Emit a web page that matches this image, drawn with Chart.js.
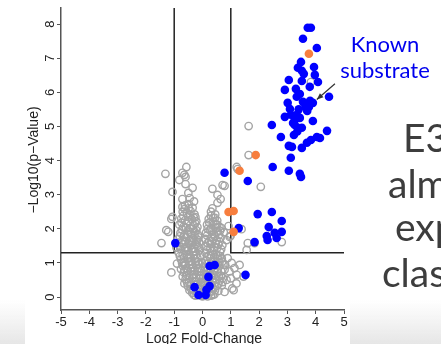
<!DOCTYPE html>
<html>
<head>
<meta charset="utf-8">
<script src="https://cdn.jsdelivr.net/npm/chart.js@4.4.1/dist/chart.umd.min.js"></script>
<style>
  html, body { margin: 0; padding: 0; background: #fff; }
  canvas { display: block; }
</style>
</head>
<body>
<canvas id="volcano" width="441" height="344"></canvas>
<script>
// log2 fold-change / -log10 p pairs
var notSignificant = [
  // scattered around the V
  [-1.31,3.61],[-1.06,3.08],[-0.71,3.64],[-0.57,3.81],[-0.64,3.58],[-0.82,3.43],[-0.60,3.52],[-0.60,3.31],
  [-0.35,3.20],[-0.50,3.05],[-0.45,2.90],[-0.71,2.87],[-0.30,2.80],[-0.71,2.64],[-0.25,2.34],[-1.10,2.29],
  [-1.06,2.35],[-1.28,1.96],[-1.21,1.91],[-1.45,1.58],[-1.10,0.72],[-0.92,1.45],[-0.90,0.98],
  [0.35,3.17],[0.53,2.99],[0.64,2.87],[0.53,2.76],[0.35,2.60],[0.71,3.28],[0.78,3.26],[1.21,3.81],[1.24,3.75],
  [0.67,2.02],[0.92,2.08],[0.96,1.76],[0.85,1.67],[0.75,1.90],[1.38,1.99],[0.99,1.79],[1.56,1.38],[1.60,1.58],
  [1.84,1.58],[2.80,1.61],[0.89,1.14],[1.03,1.00],[1.13,0.85],[1.31,0.94],[1.21,0.65],[0.71,0.44],[0.95,0.75],
  [0.85,0.50],[1.20,0.40],[1.05,0.25],[0.62,1.20],[0.80,0.95],[1.00,0.55],[1.45,0.60],[1.10,0.20],[0.78,0.15],
  [1.63,5.01],[1.63,4.16],[2.06,3.23],[3.83,6.30],
  // left arm
  [-0.62,2.68],[-0.48,2.72],[-0.35,2.62],[-0.63,2.58],[-0.49,2.60],
  [-0.70,2.50],[-0.55,2.45],[-0.42,2.52],[-0.28,2.42],[-0.68,2.38],[-0.44,2.40],[-0.31,2.32],
  [-0.75,2.30],[-0.62,2.25],[-0.50,2.35],[-0.38,2.28],[-0.22,2.22],[-0.74,2.18],[-0.50,2.22],[-0.26,2.16],
  [-0.82,2.12],[-0.68,2.05],[-0.56,2.15],[-0.44,2.02],[-0.32,2.10],[-0.18,2.05],
  [-0.72,1.98],[-0.58,2.02],[-0.46,1.90],[-0.34,2.00],[-0.22,1.96],
  [-0.78,1.88],[-0.64,1.82],[-0.52,1.95],[-0.40,1.85],[-0.28,1.92],[-0.16,1.82],
  [-0.80,1.78],[-0.66,1.76],[-0.52,1.84],[-0.40,1.68],[-0.28,1.80],[-0.18,1.68],
  [-0.86,1.70],[-0.72,1.66],[-0.58,1.75],[-0.46,1.64],[-0.34,1.72],[-0.22,1.62],[-0.14,1.75],
  [-0.74,1.58],[-0.60,1.62],[-0.48,1.56],[-0.36,1.60],[-0.24,1.54],[-0.12,1.60],
  [-0.80,1.48],[-0.66,1.55],[-0.54,1.44],[-0.42,1.52],[-0.30,1.42],[-0.18,1.50],
  [-0.76,1.40],[-0.62,1.45],[-0.50,1.38],[-0.38,1.42],[-0.26,1.34],[-0.14,1.46],
  [-0.84,1.30],[-0.70,1.25],[-0.58,1.35],[-0.46,1.22],[-0.34,1.32],[-0.22,1.24],[-0.12,1.36],
  [-0.80,1.20],[-0.66,1.16],[-0.54,1.24],[-0.42,1.14],[-0.30,1.22],[-0.18,1.14],[-0.08,1.22],
  [-0.76,1.10],[-0.64,1.02],[-0.52,1.14],[-0.40,1.04],[-0.28,1.12],[-0.16,1.02],
  [-0.72,1.00],[-0.60,0.96],[-0.48,1.04],[-0.36,0.96],[-0.24,1.04],[-0.12,0.96],[-0.02,1.00],
  [-0.70,0.92],[-0.58,0.84],[-0.46,0.95],[-0.34,0.86],[-0.22,0.94],[-0.10,0.84],
  [-0.76,0.82],[-0.64,0.80],[-0.52,0.76],[-0.40,0.84],[-0.28,0.78],[-0.16,0.84],[-0.04,0.76],
  [-0.66,0.72],[-0.54,0.64],[-0.42,0.76],[-0.30,0.66],[-0.18,0.74],[-0.06,0.64],
  [-0.70,0.60],[-0.58,0.62],[-0.46,0.56],[-0.34,0.64],[-0.22,0.58],[-0.10,0.62],[0.02,0.56],
  [-0.60,0.52],[-0.48,0.44],[-0.36,0.56],[-0.24,0.46],[-0.12,0.54],[0.00,0.44],
  [-0.64,0.40],[-0.54,0.42],[-0.42,0.36],[-0.30,0.46],[-0.18,0.38],[-0.06,0.44],[0.04,0.36],
  [-0.52,0.32],[-0.40,0.24],[-0.28,0.36],[-0.16,0.26],[-0.04,0.34],
  [-0.46,0.20],[-0.34,0.24],[-0.22,0.16],[-0.10,0.24],[0.02,0.14],
  [-0.36,0.12],[-0.24,0.04],[-0.12,0.14],[0.00,0.02],[-0.30,0.06],[-0.18,0.08],[-0.06,0.04],
  // right arm
  [0.30,2.50],[0.45,2.42],[0.30,2.38],[0.44,2.32],
  [0.22,2.28],[0.38,2.32],[0.52,2.24],[0.24,2.18],[0.38,2.20],[0.52,2.12],
  [0.16,2.12],[0.30,2.02],[0.46,2.14],[0.60,2.06],
  [0.18,2.00],[0.34,1.92],[0.48,2.02],[0.62,1.94],
  [0.12,1.88],[0.26,1.96],[0.40,1.84],[0.54,1.92],
  [0.16,1.80],[0.30,1.74],[0.44,1.78],[0.58,1.82],
  [0.10,1.70],[0.24,1.64],[0.36,1.76],[0.50,1.66],[0.64,1.74],
  [0.18,1.58],[0.32,1.64],[0.46,1.56],[0.60,1.62],[0.70,1.52],
  [0.14,1.48],[0.28,1.56],[0.42,1.46],[0.56,1.54],
  [0.16,1.38],[0.28,1.42],[0.40,1.38],[0.52,1.44],[0.66,1.40],
  [0.10,1.30],[0.22,1.22],[0.34,1.34],[0.48,1.24],[0.62,1.32],
  [0.16,1.18],[0.30,1.24],[0.42,1.16],[0.56,1.22],[0.68,1.14],
  [0.14,1.06],[0.28,1.14],[0.40,1.02],[0.54,1.12],[0.70,1.04],
  [0.18,0.98],[0.32,1.04],[0.46,0.96],[0.60,1.02],[0.74,0.94],
  [0.08,0.88],[0.20,0.82],[0.34,0.94],[0.46,0.84],[0.58,0.92],
  [0.14,0.78],[0.28,0.84],[0.40,0.78],[0.54,0.82],[0.66,0.76],[0.78,0.80],
  [0.12,0.66],[0.26,0.74],[0.40,0.64],[0.52,0.72],[0.66,0.62],
  [0.16,0.58],[0.30,0.62],[0.44,0.56],[0.58,0.62],[0.72,0.56],
  [0.10,0.46],[0.22,0.54],[0.36,0.44],[0.48,0.52],[0.60,0.48],
  [0.08,0.36],[0.20,0.40],[0.32,0.36],[0.44,0.42],[0.56,0.38],[0.68,0.34],
  [0.14,0.26],[0.26,0.34],[0.38,0.24],[0.50,0.32],
  [0.08,0.20],[0.20,0.22],[0.32,0.16],[0.44,0.20],[0.56,0.18],
  [0.12,0.08],[0.24,0.14],[0.36,0.06],[0.06,0.04],[0.18,0.02],[0.30,0.04],[0.42,0.08]
];

var significant = [
  [3.72,7.89],[3.83,7.89],[3.55,7.57],[4.04,7.30],[3.48,6.89],[3.37,6.72],[3.94,6.74],[3.51,6.63],
  [3.58,6.54],[3.97,6.51],[3.05,6.36],[3.51,6.33],[4.08,6.30],[3.79,6.16],[2.91,6.07],[3.30,6.10],
  [3.44,5.95],[3.33,5.87],[4.47,5.87],[3.01,5.69],[3.55,5.72],[3.90,5.69],[3.76,5.57],[3.09,5.51],
  [3.65,5.57],[3.12,5.34],[2.91,5.28],[3.33,5.34],[3.26,5.19],[3.44,5.25],[3.90,5.16],[2.45,5.04],
  [3.26,5.04],[3.37,4.96],[3.51,4.96],[2.77,4.69],[3.23,4.75],[4.40,4.87],[4.04,4.69],[3.83,4.60],
  [3.69,4.52],[3.51,4.37],[3.05,4.43],[3.16,4.40],[4.15,4.66],[3.12,4.08],[2.48,3.81],[3.05,3.70],
  [3.44,3.61],[3.48,3.52],[1.60,3.40],[0.78,3.64],
  [3.80,5.75],[3.70,5.45],[3.40,5.50],[3.20,5.10],[3.35,4.85],
  [1.95,2.43],[2.45,2.49],[2.80,2.23],[2.34,2.05],[1.28,2.02],[2.80,1.91],[2.55,1.88],[2.62,1.73],
  [2.27,1.79],[2.30,1.67],[1.84,1.61],
  [-0.96,1.58],[0.25,0.91],[0.43,0.94],[0.21,0.59],[-0.28,0.29],[-0.14,0.06],[0.11,0.06],[0.14,0.21],
  [0.25,0.32],[1.52,0.65]
];

var knownSubstrates = [
  [3.76,7.13],[1.88,4.16],[1.31,3.70],[0.92,2.49],[1.10,2.52],[1.10,1.91]
];

var xTicks = [-5, -4, -3, -2, -1, 0, 1, 2, 3, 4, 5];
var yTicks = [0, 1, 2, 3, 4, 5, 6, 7, 8];
var xRange = [-5, 5];
var yRange = [-0.38, 8.47];

// cut-offs: |log2FC| = 1, p = 0.05
var fcCut = 1;
var pCut = 1.3;

// annotation arrow, in data units
var arrowFrom = [4.68, 6.25];
var arrowTo = [4.04, 5.79];

function toXY(list) {
  return list.map(function (p) { return { x: p[0], y: p[1] }; });
}

var axisFont = '"Liberation Sans", Arial, sans-serif';

var overlay = {
  id: 'overlay',
  beforeDraw: function (chart) {
    var ctx = chart.ctx;
    // soft grey band at the foot of the slide
    var grad = ctx.createLinearGradient(0, 300, 0, 344);
    grad.addColorStop(0, 'rgba(232,232,232,0)');
    grad.addColorStop(1, '#e6e6e6');
    ctx.save();
    ctx.fillStyle = grad;
    ctx.fillRect(0, 300, 25, 44);
    ctx.fillRect(350, 300, 91, 44);
    ctx.restore();
  },
  afterDraw: function (chart) {
    var ctx = chart.ctx;
    var xs = chart.scales.x;
    var ys = chart.scales.y;

    ctx.save();
    ctx.fillStyle = '#222';

    // y tick labels, parallel to the axis
    ctx.font = '13px ' + axisFont;
    ctx.textAlign = 'center';
    ctx.textBaseline = 'middle';
    yTicks.forEach(function (v) {
      ctx.save();
      ctx.translate(50, ys.getPixelForValue(v));
      ctx.rotate(-Math.PI / 2);
      ctx.fillText(String(v), 0, 0);
      ctx.restore();
    });

    // axis titles
    ctx.font = '14px ' + axisFont;
    ctx.save();
    ctx.translate(34, 160);
    ctx.rotate(-Math.PI / 2);
    ctx.fillText('\u2212Log10(p\u2212Value)', 0, 0);
    ctx.restore();
    ctx.textBaseline = 'alphabetic';
    ctx.fillText('Log2 Fold-Change', 204, 343);

    // arrow to the known substrate
    var x0 = xs.getPixelForValue(arrowFrom[0]), y0 = ys.getPixelForValue(arrowFrom[1]);
    var x1 = xs.getPixelForValue(arrowTo[0]), y1 = ys.getPixelForValue(arrowTo[1]);
    var a = Math.atan2(y1 - y0, x1 - x0);
    ctx.strokeStyle = '#333';
    ctx.lineWidth = 1.2;
    ctx.beginPath();
    ctx.moveTo(x0, y0);
    ctx.lineTo(x1, y1);
    ctx.stroke();
    ctx.fillStyle = '#333';
    ctx.beginPath();
    ctx.moveTo(x1, y1);
    ctx.lineTo(x1 - 7 * Math.cos(a - 0.4), y1 - 7 * Math.sin(a - 0.4));
    ctx.lineTo(x1 - 7 * Math.cos(a + 0.4), y1 - 7 * Math.sin(a + 0.4));
    ctx.closePath();
    ctx.fill();

    // label
    ctx.fillStyle = '#0000ee';
    ctx.font = '22px Lato, sans-serif';
    ctx.textAlign = 'center';
    ctx.fillText('Known', 385, 52);
    ctx.fillText('substrate', 385, 78);

    // slide text running off the right edge
    ctx.fillStyle = '#3d3d3d';
    ctx.font = '39px Lato, sans-serif';
    ctx.textAlign = 'left';
    ctx.fillText('E3', 403, 152);
    ctx.fillText('almost', 388, 198);
    ctx.fillText('expected', 395, 241);
    ctx.fillText('class', 382, 287);
    ctx.restore();
  }
};

var ctx = document.getElementById('volcano').getContext('2d');
var volcano = new Chart(ctx, {
  type: 'scatter',
  data: {
    datasets: [
      {
        label: 'cut-off low',
        data: [{ x: xRange[0], y: pCut }, { x: -fcCut, y: pCut }, { x: -fcCut, y: yRange[1] }],
        showLine: true,
        borderColor: '#222',
        borderWidth: 1.5,
        pointRadius: 0,
        order: 4
      },
      {
        label: 'cut-off high',
        data: [{ x: fcCut, y: yRange[1] }, { x: fcCut, y: pCut }, { x: xRange[1], y: pCut }],
        showLine: true,
        borderColor: '#222',
        borderWidth: 1.5,
        pointRadius: 0,
        order: 4
      },
      {
        label: 'not significant',
        data: toXY(notSignificant),
        pointRadius: 3.7,
        pointBackgroundColor: 'rgba(255,255,255,0)',
        pointBorderColor: '#a4a4a4',
        pointBorderWidth: 1.4,
        order: 3
      },
      {
        label: 'significant',
        data: toXY(significant),
        pointRadius: 4.3,
        pointBackgroundColor: '#0000ff',
        pointBorderColor: '#0000ff',
        pointBorderWidth: 0,
        order: 2
      },
      {
        label: 'known substrate',
        data: toXY(knownSubstrates),
        pointRadius: 4.3,
        pointBackgroundColor: '#f77e3e',
        pointBorderColor: '#f77e3e',
        pointBorderWidth: 0,
        order: 1
      }
    ]
  },
  options: {
    responsive: false,
    animation: false,
    events: [],
    layout: { padding: { left: 0, right: 97, top: 8, bottom: 0 } },
    plugins: { legend: { display: false }, tooltip: { enabled: false } },
    scales: {
      x: {
        type: 'linear',
        min: xRange[0],
        max: xRange[1],
        afterBuildTicks: function (scale) {
          scale.ticks = xTicks.map(function (v) { return { value: v }; });
        },
        afterFit: function (scale) { scale.height = 34; },
        border: { display: true, color: '#555', width: 1.5 },
        grid: { drawOnChartArea: false, drawTicks: true, tickLength: 4, color: '#555', lineWidth: 1 },
        ticks: { color: '#222', padding: 1, maxRotation: 0, font: { family: axisFont, size: 13 } }
      },
      y: {
        type: 'linear',
        min: yRange[0],
        max: yRange[1],
        afterBuildTicks: function (scale) {
          scale.ticks = yTicks.map(function (v) { return { value: v }; });
        },
        afterFit: function (scale) { scale.width = 61; },
        border: { display: true, color: '#555', width: 1.5 },
        grid: { drawOnChartArea: false, drawTicks: true, tickLength: 4, color: '#555', lineWidth: 1 },
        ticks: { display: false }
      }
    }
  },
  plugins: [overlay]
});
</script>
</body>
</html>
